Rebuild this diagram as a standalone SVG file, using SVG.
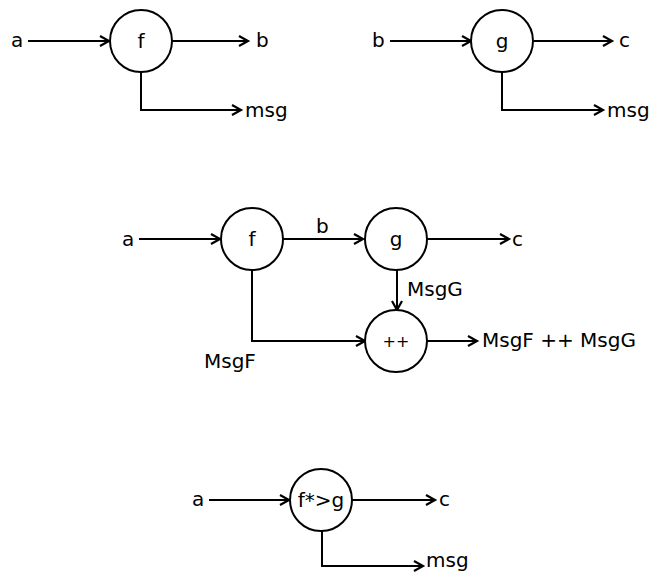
<svg xmlns="http://www.w3.org/2000/svg" width="651" height="573" viewBox="0 0 651 573">
<defs>
<marker id="arr" markerWidth="14" markerHeight="14" refX="10" refY="7" orient="auto" markerUnits="userSpaceOnUse">
<polyline points="1,2 10,7 1,12" fill="none" stroke="#000" stroke-width="2.2"/>
</marker>
<style>
text{font-family:"DejaVu Sans","Liberation Sans",sans-serif;font-size:20px;fill:#000}
.c{text-anchor:middle}
.n circle{fill:#fff;stroke:#000;stroke-width:2}
.e{fill:none;stroke:#000;stroke-width:2;marker-end:url(#arr)}
.pp{font-size:16px}
</style>
</defs>
<rect width="651" height="573" fill="#fff"/>
<g id="connectors">
<line class="e" x1="28" y1="41" x2="109" y2="41"/>
<line class="e" x1="172" y1="41" x2="248" y2="41"/>
<polyline class="e" points="141,72 141,110 241,110"/>
<line class="e" x1="390" y1="41" x2="471" y2="41"/>
<line class="e" x1="534" y1="41" x2="612" y2="41"/>
<polyline class="e" points="502,72 502,110 603,110"/>
<line class="e" x1="139" y1="239" x2="220" y2="239"/>
<line class="e" x1="283" y1="239" x2="363" y2="239"/>
<line class="e" x1="427" y1="239" x2="509" y2="239"/>
<line class="e" x1="397" y1="270" x2="397" y2="310"/>
<polyline class="e" points="252,270 252,341 365,341"/>
<line class="e" x1="427" y1="341" x2="477" y2="341"/>
<line class="e" x1="209" y1="500" x2="289" y2="500"/>
<line class="e" x1="352" y1="500" x2="435" y2="500"/>
<polyline class="e" points="322,531 322,566 423,566"/>
</g>
<g id="tl-labels">
<text x="11" y="47">a</text>
<text x="256" y="47">b</text>
<text x="245" y="117">msg</text>
</g>
<g id="node-f1" class="n"><circle cx="141" cy="41" r="31"/><text class="c" x="141" y="48">f</text></g>
<g id="tr-labels">
<text x="372" y="47">b</text>
<text x="619" y="47">c</text>
<text x="607" y="117">msg</text>
</g>
<g id="node-g1" class="n"><circle cx="502" cy="41" r="31"/><text class="c" x="502" y="48">g</text></g>
<g id="mid-labels">
<text x="122" y="246">a</text>
<text x="316" y="233">b</text>
<text x="512" y="246">c</text>
<text x="407" y="296">MsgG</text>
<text x="204" y="368">MsgF</text>
<text x="482" y="347">MsgF ++ MsgG</text>
</g>
<g id="node-f2" class="n"><circle cx="252" cy="239" r="31"/><text class="c" x="252" y="246">f</text></g>
<g id="node-g2" class="n"><circle cx="396" cy="239" r="31"/><text class="c" x="396" y="246">g</text></g>
<g id="node-pp" class="n"><circle cx="396" cy="341" r="31"/><text class="c pp" x="396" y="347">++</text></g>
<g id="bot-labels">
<text x="192" y="506">a</text>
<text x="439" y="506">c</text>
<text x="426" y="567">msg</text>
</g>
<g id="node-fg" class="n"><circle cx="321" cy="500" r="31"/><text class="c" x="321" y="507">f*&gt;g</text></g>
</svg>
